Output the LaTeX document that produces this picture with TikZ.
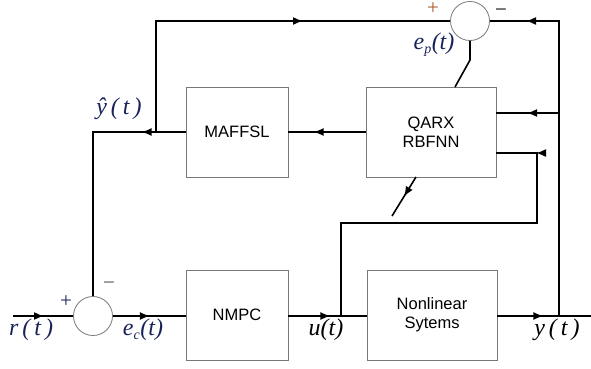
\documentclass[tikz,border=0pt]{standalone}
\usepackage{fontspec}
\setmainfont{Liberation Serif}
\newfontfamily\boxfont{Liberation Sans}
\usetikzlibrary{arrows.meta,decorations.markings}
\definecolor{navy}{RGB}{25,35,90}
\definecolor{plusbrown}{RGB}{170,90,40}
\definecolor{edgegray}{RGB}{120,120,120}
\tikzset{
  blk/.style={draw=edgegray, line width=0.8pt, fill=white, inner sep=0pt,
              align=center, font=\boxfont\fontsize{16.5}{19}\selectfont},
  sumc/.style={circle, draw=edgegray, line width=0.8pt, minimum size=39pt, inner sep=0pt},
  wire/.style={line width=1.6pt, black},
  arrowat/.style={postaction={decorate}, decoration={markings,
      mark=at position #1 with {\arrow{Latex[length=10pt,width=8pt]}}}},
  sig/.style={font=\fontsize{24}{26}\selectfont\itshape},
  sgn/.style={inner sep=0pt, font=\fontsize{21}{21}\selectfont}
}
\begin{document}
\begin{tikzpicture}[x=1pt,y=-1pt]
\useasboundingbox (0,0) rectangle (591,368);

% blocks
\node[blk, minimum width=102pt, minimum height=90pt] (nmpc) at (237,315) {NMPC};
\node[blk, minimum width=130pt, minimum height=90pt] (plant) at (432,315) {Nonlinear\\Sytems};
\node[blk, minimum width=102pt, minimum height=90pt] (maff) at (237,132) {MAFFSL};
\node[blk, minimum width=130pt, minimum height=90pt] (qarx) at (431,132) {QARX\\RBFNN};

% summing junctions
\node[sumc] (s1) at (93,316) {};
\node[sumc] (s2) at (470,21) {};

% junction and corner points
\coordinate (rin) at (13,316);
\coordinate (yout) at (591,316);
\coordinate (yj) at (559,316);
\coordinate (uj) at (341,316);
\coordinate (yhj) at (156,132);
\coordinate (ep1) at (470,60);
\coordinate (ep2) at (455,87);
\coordinate (d1) at (416,177);
\coordinate (d2) at (392,216);

% forward path
\draw[wire, arrowat=31pt] (rin) -- (s1.west);
\draw[wire, arrowat=37pt] (s1.east) -- (nmpc.west |- s1.east);
\draw[wire, arrowat=42pt] (nmpc.east |- uj) -- (plant.west |- uj);
\draw[wire, arrowat=46pt] (plant.east |- yj) -- (yout);

% plant output back to the error junction and the network
\draw[wire, arrowat=328pt] (yj) -- (yj |- s2.east) -- (s2.east);
\draw[wire, arrowat=32pt] (yj |- 0,113) -- (qarx.east |- 0,113);

% control input to the network
\draw[wire, arrowat=360pt] (uj) -- (341,223) -- (537,223) -- (537,153) -- (qarx.east |- 0,153);

% network error and adaptation
\draw[wire] (s2.south) -- (ep1) -- (ep2);
\draw[wire, arrowat=0.5] (d1) -- (d2);

% model path
\draw[wire, arrowat=52pt] (qarx.west) -- (maff.east);
\draw[wire, arrowat=44pt] (maff.west) -- (93,132) -- (s1.north);
\draw[wire, arrowat=258pt] (yhj) -- (yhj |- s2.west) -- (s2.west);

% signs
\node[sgn, text=navy] at (66,302) {+};
\node[sgn, text=black!70] at (109,286) {\textminus};
\node[sgn, text=plusbrown] at (433,9) {+};
\node[sgn] at (501,13) {\textminus};

% signal labels
\node[sig, text=navy] at (31,330) {r\,(\,t\,)};
\node[sig, text=navy] at (143,330) {e\textsubscript{\fontsize{14}{14}\selectfont c}(t)};
\node[sig, text=navy] at (434,45) {e\textsubscript{\fontsize{14}{14}\selectfont p}(t)};
\node[sig, text=navy] at (119,109) {\^{y}\,(\,t\,)};
\node[sig] at (326,330) {u(t)};
\node[sig] at (557,330) {y\,(\,t\,)};
\end{tikzpicture}
\end{document}
